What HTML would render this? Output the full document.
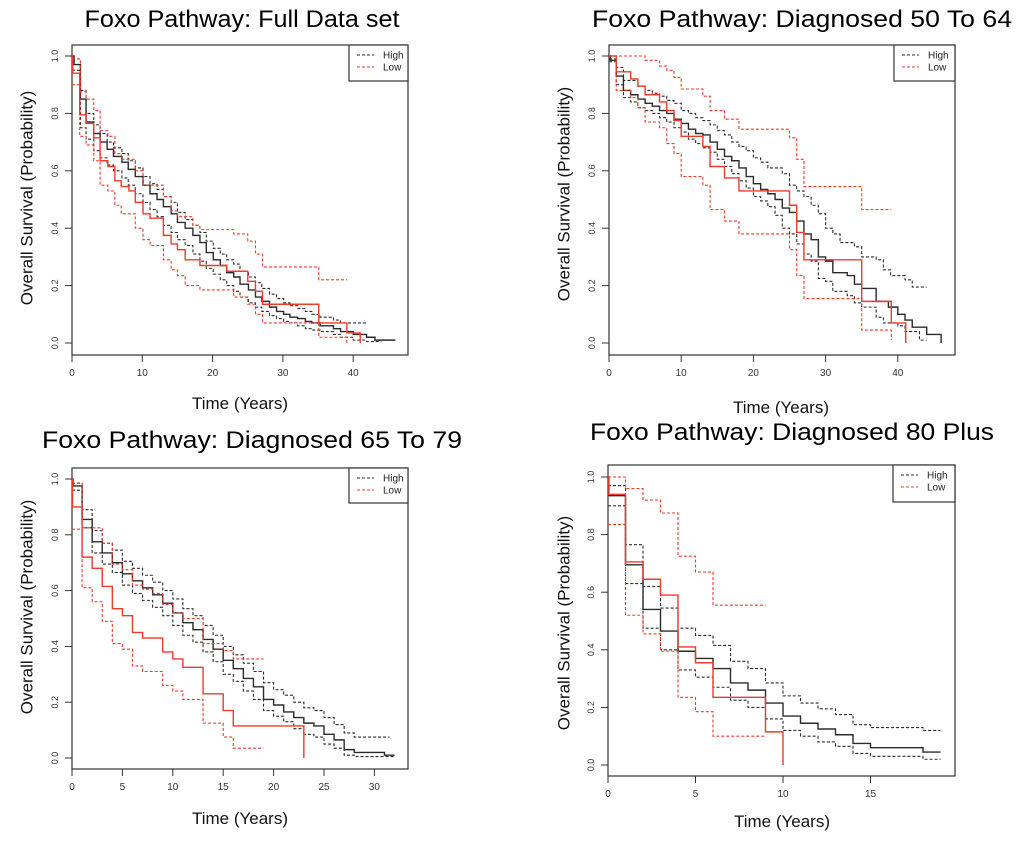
<!DOCTYPE html>
<html><head><meta charset="utf-8"><style>
html,body{margin:0;padding:0;background:#fff;}
svg{display:block;font-family:"Liberation Sans",sans-serif;}
</style></head><body>
<svg id="fig" width="1020" height="841" viewBox="0 0 1020 841" xmlns="http://www.w3.org/2000/svg"></svg>
<script>
// ---- Panel 1: Full data set ----
const p1HighT=[0,0.3,1.2,2,3.1,4,5,5.9,7.1,8,9,10.1,11.1,12.1,13,14.1,15,16.1,17.2,18.2,19.1,20.1,21.1,22,23,23.9,25.1,26.1,27,28.1,29.1,30.1,31,32.1,33.2,34.1,35.3,37.2,38.2,40,41.9,43.1];
const p1HighS=[1,0.97,0.85,0.77,0.73,0.70,0.675,0.65,0.63,0.605,0.58,0.55,0.52,0.50,0.475,0.45,0.42,0.40,0.375,0.35,0.315,0.29,0.27,0.245,0.23,0.205,0.185,0.16,0.145,0.125,0.11,0.10,0.09,0.085,0.075,0.07,0.06,0.05,0.04,0.03,0.02,0.01];
const p1HighUpT=[0,1.2,2,3.1,4,5,5.9,7.1,8,9,10.1,11.1,12.1,13,14.1,15,16.1,17.2,18.2,19.1,20.1,21.1,22,23,23.9,25.1,26.1,27,28.1,29.1,30.1,31,32.1,33.2,34.1,35.3,37.2,38.2];
const p1HighUpS=[0.99,0.88,0.80,0.76,0.73,0.70,0.68,0.66,0.635,0.61,0.58,0.555,0.535,0.51,0.49,0.455,0.43,0.41,0.385,0.355,0.33,0.31,0.29,0.275,0.25,0.23,0.21,0.19,0.17,0.155,0.14,0.13,0.12,0.11,0.10,0.09,0.08,0.07];
const p1HighLoT=[0,1.2,2,3.1,4,5,5.9,7.1,8,9,10.1,11.1,12.1,13,14.1,15,16.1,17.2,18.2,19.1,20.1,21.1,22,23,23.9,25.1,26.1,27,28.1,29.1,30.1,31,32.1,33.2,34.1,35.3,37.2,38.2,40,41.9];
const p1HighLoS=[0.95,0.75,0.71,0.67,0.645,0.62,0.60,0.575,0.55,0.52,0.49,0.465,0.44,0.41,0.385,0.36,0.34,0.31,0.285,0.26,0.24,0.22,0.20,0.18,0.16,0.14,0.125,0.11,0.095,0.085,0.075,0.07,0.06,0.05,0.045,0.04,0.03,0.02,0.01,0.005];
const p1LowT=[0,0.1,1.1,2,3.1,4,5.1,6.1,7,8.1,9,10.1,11.1,13,14.1,15,16.1,18.2,22,25,26.1,27.1,35.1,39.1,41];
const p1LowS=[1,0.94,0.795,0.765,0.715,0.635,0.615,0.565,0.545,0.53,0.49,0.45,0.435,0.375,0.345,0.325,0.29,0.27,0.25,0.215,0.18,0.135,0.07,0.035,0];
const p1LowUpT=[0,1.2,2,3.1,4,5.1,6.1,7,9,10.1,13,14.1,15,17.2,18.2,23,25,26.1,27.1,35.1];
const p1LowUpS=[0.99,0.875,0.85,0.81,0.74,0.72,0.66,0.64,0.60,0.55,0.51,0.46,0.44,0.41,0.395,0.38,0.355,0.31,0.265,0.22];
const p1LowLoT=[0,1.1,2,3.1,4,5.1,6.1,7,9,10.1,11.1,13,14.1,15,16.1,18.2,23,25,26.1,27.1,35.1,39.1];
const p1LowLoS=[0.90,0.72,0.69,0.635,0.55,0.53,0.48,0.45,0.40,0.36,0.34,0.29,0.255,0.235,0.20,0.185,0.16,0.135,0.10,0.07,0.02,0];
// ---- Panel 2: 50 to 64 ----
const p2HighT=[0,0.2,1,2,3,4,5,6,7,8,9,10,11,12,13,14,15,16,17,18,19,20,21,22,23,24,25,26,27,28,29,30,31,33,34,35,37,38.7,40,41,42,44,46];
const p2HighS=[1,0.985,0.93,0.88,0.865,0.85,0.835,0.825,0.81,0.80,0.78,0.765,0.745,0.73,0.725,0.70,0.675,0.65,0.635,0.61,0.58,0.555,0.535,0.52,0.50,0.47,0.455,0.425,0.38,0.36,0.30,0.285,0.245,0.235,0.205,0.19,0.145,0.125,0.10,0.08,0.055,0.03,0];
const p2HighUpT=[0,1,2,4,5,6,7,8,9,10,11,12,13,14,15,16,17,18,19,20,21,22,24,25,26,27,28,29,30,31,32,34,35,37,38,39,41,42];
const p2HighUpS=[0.99,0.96,0.915,0.895,0.88,0.87,0.86,0.845,0.835,0.81,0.80,0.785,0.775,0.76,0.74,0.725,0.70,0.685,0.67,0.645,0.63,0.61,0.59,0.55,0.53,0.51,0.48,0.45,0.40,0.38,0.35,0.335,0.30,0.29,0.255,0.235,0.22,0.195];
const p2HighLoT=[0,1,2,3,4,5,6,7,8,9,10,11,12,13,14,15,16,17,18,19,20,21,22,23,24,25,26,27,28,29,30,31,33,34,35,37,38,40,41,43];
const p2HighLoS=[0.98,0.9,0.855,0.84,0.82,0.81,0.80,0.785,0.77,0.75,0.735,0.71,0.695,0.68,0.665,0.64,0.615,0.59,0.565,0.54,0.51,0.495,0.475,0.445,0.40,0.38,0.345,0.31,0.285,0.225,0.215,0.18,0.165,0.14,0.125,0.09,0.07,0.06,0.04,0.01];
const p2LowT=[0,1,3,4,5,7,8,9,10,13,14,16,18,25,26,27,35,39.1,41.1];
const p2LowS=[1,0.945,0.92,0.895,0.865,0.84,0.81,0.775,0.72,0.685,0.615,0.575,0.53,0.48,0.385,0.29,0.145,0.07,0];
const p2LowUpT=[0,5,7,8,9,10,13,14,16,18,25,26,27,35];
const p2LowUpS=[1,0.985,0.965,0.95,0.925,0.885,0.86,0.81,0.78,0.745,0.715,0.64,0.545,0.465];
const p2LowLoT=[0,1,3,4,5,7,8,9,10,13,14,16,18,25,26,27,35,39.1];
const p2LowLoS=[1,0.88,0.855,0.82,0.77,0.75,0.695,0.66,0.58,0.55,0.465,0.425,0.38,0.325,0.235,0.155,0.045,0.01];
// ---- Panel 3: 65 to 79 ----
const p3HighT=[0,0.1,1,2,3,4,5,6,7,8,9,10,11,12,13,14,15,16,17,18,19,20,21,22,23,24,25,26,27,28,31];
const p3HighS=[1,0.975,0.855,0.775,0.735,0.70,0.66,0.635,0.61,0.585,0.555,0.52,0.485,0.46,0.425,0.39,0.35,0.32,0.285,0.255,0.21,0.19,0.165,0.145,0.125,0.115,0.085,0.065,0.03,0.02,0.01];
const p3HighUpT=[0,1,2,3,4,5,6,7,8,9,10,11,12,13,14,15,16,17,18,19,20,21,22,23,24,25,26,27,28];
const p3HighUpS=[0.985,0.89,0.815,0.77,0.745,0.705,0.68,0.655,0.63,0.60,0.57,0.535,0.51,0.475,0.44,0.40,0.37,0.34,0.31,0.27,0.245,0.225,0.20,0.18,0.17,0.145,0.12,0.09,0.075];
const p3HighLoT=[0,1,2,3,4,5,6,7,8,9,10,11,12,13,14,15,16,17,18,19,20,21,22,23,24,25,26,27,28];
const p3HighLoS=[0.96,0.825,0.735,0.695,0.665,0.62,0.59,0.565,0.54,0.51,0.475,0.44,0.415,0.38,0.345,0.30,0.275,0.24,0.21,0.17,0.15,0.13,0.105,0.085,0.075,0.05,0.035,0.01,0.005];
const p3LowT=[0,0.05,1,2,3,4,5,6,7,9,10,11,13,15,16,23];
const p3LowS=[1,0.90,0.72,0.68,0.615,0.535,0.51,0.45,0.43,0.38,0.355,0.325,0.23,0.17,0.115,0];
const p3LowUpT=[0,1,3,4,5,6,7,8,9,10,11,13,15,16];
const p3LowUpS=[0.985,0.825,0.77,0.695,0.675,0.62,0.605,0.59,0.55,0.52,0.50,0.41,0.385,0.355];
const p3LowLoT=[0,1,2,3,4,5,6,7,9,10,11,13,15,16];
const p3LowLoS=[0.82,0.61,0.56,0.49,0.41,0.39,0.33,0.31,0.26,0.24,0.21,0.125,0.075,0.035];
// ---- Panel 4: 80 plus ----
const p4HighT=[0,0.05,1,2,3,4,5,6,7,8,9,10,11,12,13,14,15,18];
const p4HighS=[1,0.935,0.695,0.54,0.465,0.395,0.37,0.335,0.285,0.26,0.215,0.17,0.145,0.125,0.105,0.075,0.06,0.045];
const p4HighUpT=[0,1,2,3,4,5,6,7,8,9,10,11,12,13,14,15,18];
const p4HighUpS=[0.97,0.765,0.62,0.545,0.475,0.45,0.415,0.36,0.335,0.285,0.24,0.215,0.195,0.175,0.14,0.13,0.12];
const p4HighLoT=[0,1,2,3,4,5,6,7,8,9,10,11,12,13,14,15,18];
const p4HighLoS=[0.90,0.63,0.475,0.40,0.33,0.305,0.27,0.225,0.20,0.16,0.12,0.10,0.08,0.065,0.04,0.03,0.02];
const p4LowT=[0,0.05,1,2,3,4,5,6,9,10];
const p4LowS=[1,0.94,0.705,0.645,0.59,0.41,0.355,0.235,0.115,0];
const p4LowUpT=[0,1,2,3,4,5,6];
const p4LowUpS=[1,0.96,0.92,0.875,0.725,0.67,0.555];
const p4LowLoT=[0,1,2,3,4,5,6];
const p4LowLoS=[0.835,0.52,0.455,0.395,0.235,0.185,0.10];
const p1XTicks=[0,10,20,30,40], p2XTicks=[0,10,20,30,40], p3XTicks=[0,5,10,15,20,25,30], p4XTicks=[0,5,10,15];
const yTicks=[0,0.2,0.4,0.6,0.8,1.0];

const NS='http://www.w3.org/2000/svg';
const svg=document.getElementById('fig');
function mk(tag,attrs,parent){const e=document.createElementNS(NS,tag);for(const k in attrs)e.setAttribute(k,attrs[k]);(parent||svg).appendChild(e);return e;}
const BLACK='#2b2b2b', RED='#ee3b2c';

const panels=[
 {key:'full',title:'Foxo Pathway: Full Data set',tx:242,ty:27,tw:315,box:[72,45,408,355],x0:72,xpy:7.03,y1:56,y0:343,xt:p1XTicks,leg:[349,45,408,81],ylx:28,yly:198,xlx:240,xly:409,
  s:[[p1HighT,p1HighS,46,BLACK,0],[p1HighUpT,p1HighUpS,42,BLACK,1],[p1HighLoT,p1HighLoS,44,BLACK,1],[p1LowT,p1LowS,41,RED,0],[p1LowUpT,p1LowUpS,39.1,RED,1],[p1LowLoT,p1LowLoS,39.1,RED,1]]},
 {key:'50-64',title:'Foxo Pathway: Diagnosed 50 To 64',tx:802,ty:27,tw:420,box:[609,45,955,355],x0:609,xpy:7.22,y1:56,y0:343,xt:p2XTicks,leg:[894,45,955,81],ylx:565,yly:194,xlx:781,xly:413,
  s:[[p2HighT,p2HighS,46,BLACK,0],[p2HighUpT,p2HighUpS,44,BLACK,1],[p2HighLoT,p2HighLoS,44,BLACK,1],[p2LowT,p2LowS,41.1,RED,0],[p2LowUpT,p2LowUpS,39.1,RED,1],[p2LowLoT,p2LowLoS,39.1,RED,1]]},
 {key:'65-79',title:'Foxo Pathway: Diagnosed 65 To 79',tx:252,ty:448,tw:420,box:[72,468,408,769],x0:72,xpy:10.08,y1:479,y0:758,xt:p3XTicks,leg:[349,468,408,503],ylx:28,yly:607,xlx:240,xly:824,
  s:[[p3HighT,p3HighS,32,BLACK,0],[p3HighUpT,p3HighUpS,31.5,BLACK,1],[p3HighLoT,p3HighLoS,32,BLACK,1],[p3LowT,p3LowS,23,RED,0],[p3LowUpT,p3LowUpS,19,RED,1],[p3LowLoT,p3LowLoS,19,RED,1]]},
 {key:'80-plus',title:'Foxo Pathway: Diagnosed 80 Plus',tx:792,ty:440,tw:404,box:[608,465,955,776],x0:608,xpy:17.5,y1:477,y0:765,xt:p4XTicks,leg:[893,465,955,502],ylx:565,yly:623,xlx:782,xly:827,
  s:[[p4HighT,p4HighS,19,BLACK,0],[p4HighUpT,p4HighUpS,19,BLACK,1],[p4HighLoT,p4HighLoS,19,BLACK,1],[p4LowT,p4LowS,10,RED,0],[p4LowUpT,p4LowUpS,9,RED,1],[p4LowLoT,p4LowLoS,9,RED,1]]}
];
const sNames=['high-curve','high-upper-ci','high-lower-ci','low-curve','low-upper-ci','low-lower-ci'];

panels.forEach(p=>{
  const g=mk('g',{});
  
  
  const X=t=>p.x0+t*p.xpy, Y=v=>p.y0-(p.y0-p.y1)*v;
  const title=mk('text',{x:p.tx,y:p.ty,'text-anchor':'middle','font-size':24,fill:'#000',textLength:p.tw,lengthAdjust:'spacingAndGlyphs'},g);
  title.textContent=p.title;
  
  
  const [bx0,by0,bx1,by1]=p.box;
  const frame=mk('rect',{x:bx0,y:by0,width:bx1-bx0,height:by1-by0,fill:'none',stroke:'#333','stroke-width':1.2},g);
  
  
  yTicks.forEach(v=>{
    const tk=mk('line',{x1:bx0,x2:bx0-7,y1:Y(v),y2:Y(v),stroke:'#333','stroke-width':1},g);
    
    
    const lb=mk('text',{x:bx0-14,y:Y(v),'font-size':9,fill:'#333','text-anchor':'middle',transform:`rotate(-90 ${bx0-14} ${Y(v)})`},g);
    lb.textContent=v.toFixed(1);
    
    
  });
  p.xt.forEach(t=>{
    const tk=mk('line',{x1:X(t),x2:X(t),y1:by1,y2:by1+7,stroke:'#333','stroke-width':1},g);
    
    
    const lb=mk('text',{x:X(t),y:by1+21,'font-size':10,fill:'#333','text-anchor':'middle'},g);
    lb.textContent=String(t);
    
    
  });
  const yl=mk('text',{x:p.ylx,y:p.yly,'font-size':17,fill:'#111','text-anchor':'middle',transform:`rotate(-90 ${p.ylx} ${p.yly})`,'dominant-baseline':'middle'},g);
  yl.textContent='Overall Survival (Probability)';
  
  
  const xl=mk('text',{x:p.xlx,y:p.xly,'font-size':17,fill:'#111','text-anchor':'middle'},g);
  xl.textContent='Time (Years)';
  
  
  p.s.forEach((ser,i)=>{
    const [T,S,end,col,dash]=ser;
    let d=`M${X(T[0])},${Y(S[0])}`;
    for(let k=1;k<T.length;k++){d+=` H${X(T[k])} V${Y(S[k])}`;}
    d+=` H${X(end)}`;
    const path=mk('path',{d:d,fill:'none',stroke:col,'stroke-width':dash?1.1:1.4,'stroke-dasharray':dash?'3,2':'none'},g);
    
    
  });
  const [lx0,ly0,lx1,ly1]=p.leg;
  const lg=mk('g',{},g);
  
  
  mk('rect',{x:lx0,y:ly0,width:lx1-lx0,height:ly1-ly0,fill:'#fff',stroke:'#333','stroke-width':1.2},lg);
  [['High',BLACK],['Low',RED]].forEach((e,k)=>{
    const yy=ly0+10+k*12;
    const ln=mk('line',{x1:lx0+8,x2:lx0+25,y1:yy,y2:yy,stroke:e[1],'stroke-width':1.1,'stroke-dasharray':'3,2'},lg);
    
    
    const tx=mk('text',{x:lx0+34,y:yy+3.5,'font-size':10,fill:'#222'},lg);
    tx.textContent=e[0];
    
    
  });
});
</script>
</body></html>
